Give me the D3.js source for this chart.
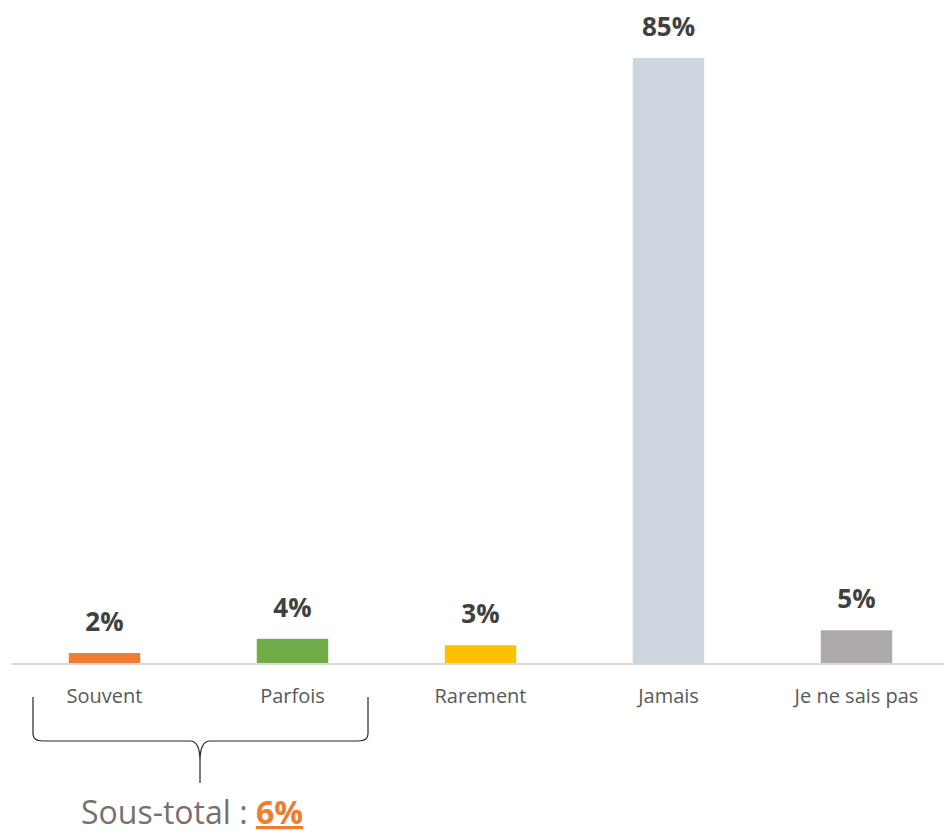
<!DOCTYPE html>
<html><head><meta charset="utf-8">
<script src="https://cdn.jsdelivr.net/npm/d3@7"></script>
<style>body{margin:0;background:#fff;}svg{display:block;}</style>
</head><body>
<script>
const categories = ["Souvent", "Parfois", "Rarement", "Jamais", "Je ne sais pas"];
const values = [1.4, 3.4, 2.5, 85, 4.6];
const valueLabels = ["2%", "4%", "3%", "85%", "5%"];
const colors = ["#ED7D31", "#70AD47", "#FFC000", "#CDD5DF", "#AEAAAA"];
const subtotalLabel = "Sous-total : ";
const subtotalValue = "6%";

(function () {
const W = 944, H = 835;
const svg = d3.select("body").append("svg").attr("width", W).attr("height", H);
const baseY = 663;
const x = d3.scaleBand().domain(categories).range([10.5, 950.5]).paddingInner(0.62).paddingOuter(0.31);
const y = d3.scaleLinear().domain([0, 85]).range([baseY, 58]);

svg.selectAll("rect.bar").data(values).enter().append("rect")
  .attr("class", "bar")
  .attr("x", (d, i) => x(categories[i]))
  .attr("width", x.bandwidth())
  .attr("y", d => y(d))
  .attr("height", d => baseY - y(d))
  .attr("fill", (d, i) => colors[i]);

svg.append("line").attr("x1", 11).attr("x2", 944).attr("y1", baseY + 1).attr("y2", baseY + 1)
  .attr("stroke", "#D9D9D9").attr("stroke-width", 2);

svg.selectAll("text.val").data(values).enter().append("text")
  .attr("class", "val")
  .attr("x", (d, i) => x(categories[i]) + x.bandwidth() / 2)
  .attr("y", d => y(d) - 22)
  .attr("text-anchor", "middle")
  .attr("font-family", "Open Sans")
  .attr("font-weight", "bold")
  .attr("font-size", 26)
  .attr("fill", "#404040")
  .text((d, i) => valueLabels[i]);

const xAxis = d3.axisBottom(x).tickSize(0).tickPadding(0);
const gx = svg.append("g").attr("transform", `translate(0,${baseY})`).call(xAxis);
gx.select(".domain").remove();
gx.selectAll("text").attr("y", 40).attr("dy", null)
  .attr("font-family", "Open Sans").attr("font-size", 20).attr("fill", "#595959");

// brace
const L = 33, R = 368, M = 200, yTop = 697, by = 741, tip = 783;
const p = d3.path();
p.moveTo(L, yTop);
p.lineTo(L, by - 7);
p.quadraticCurveTo(L, by, L + 10, by);
p.lineTo(M - 10, by);
p.quadraticCurveTo(M, by, M, by + 20);
p.lineTo(M, tip);
p.moveTo(R, yTop);
p.lineTo(R, by - 7);
p.quadraticCurveTo(R, by, R - 10, by);
p.lineTo(M + 10, by);
p.quadraticCurveTo(M, by, M, by + 20);
svg.append("path").attr("d", p.toString()).attr("fill", "none").attr("stroke", "#262626").attr("stroke-width", 1.2);

const st = svg.append("text").attr("x", 192).attr("y", 824).attr("text-anchor", "middle")
  .attr("font-family", "Open Sans").attr("font-size", 32);
st.append("tspan").attr("fill", "#767171").text(subtotalLabel);
st.append("tspan").attr("fill", "#ED7D31").attr("font-weight", "bold")
  .attr("text-decoration", "underline").text(subtotalValue);
})();
</script>
</body></html>
